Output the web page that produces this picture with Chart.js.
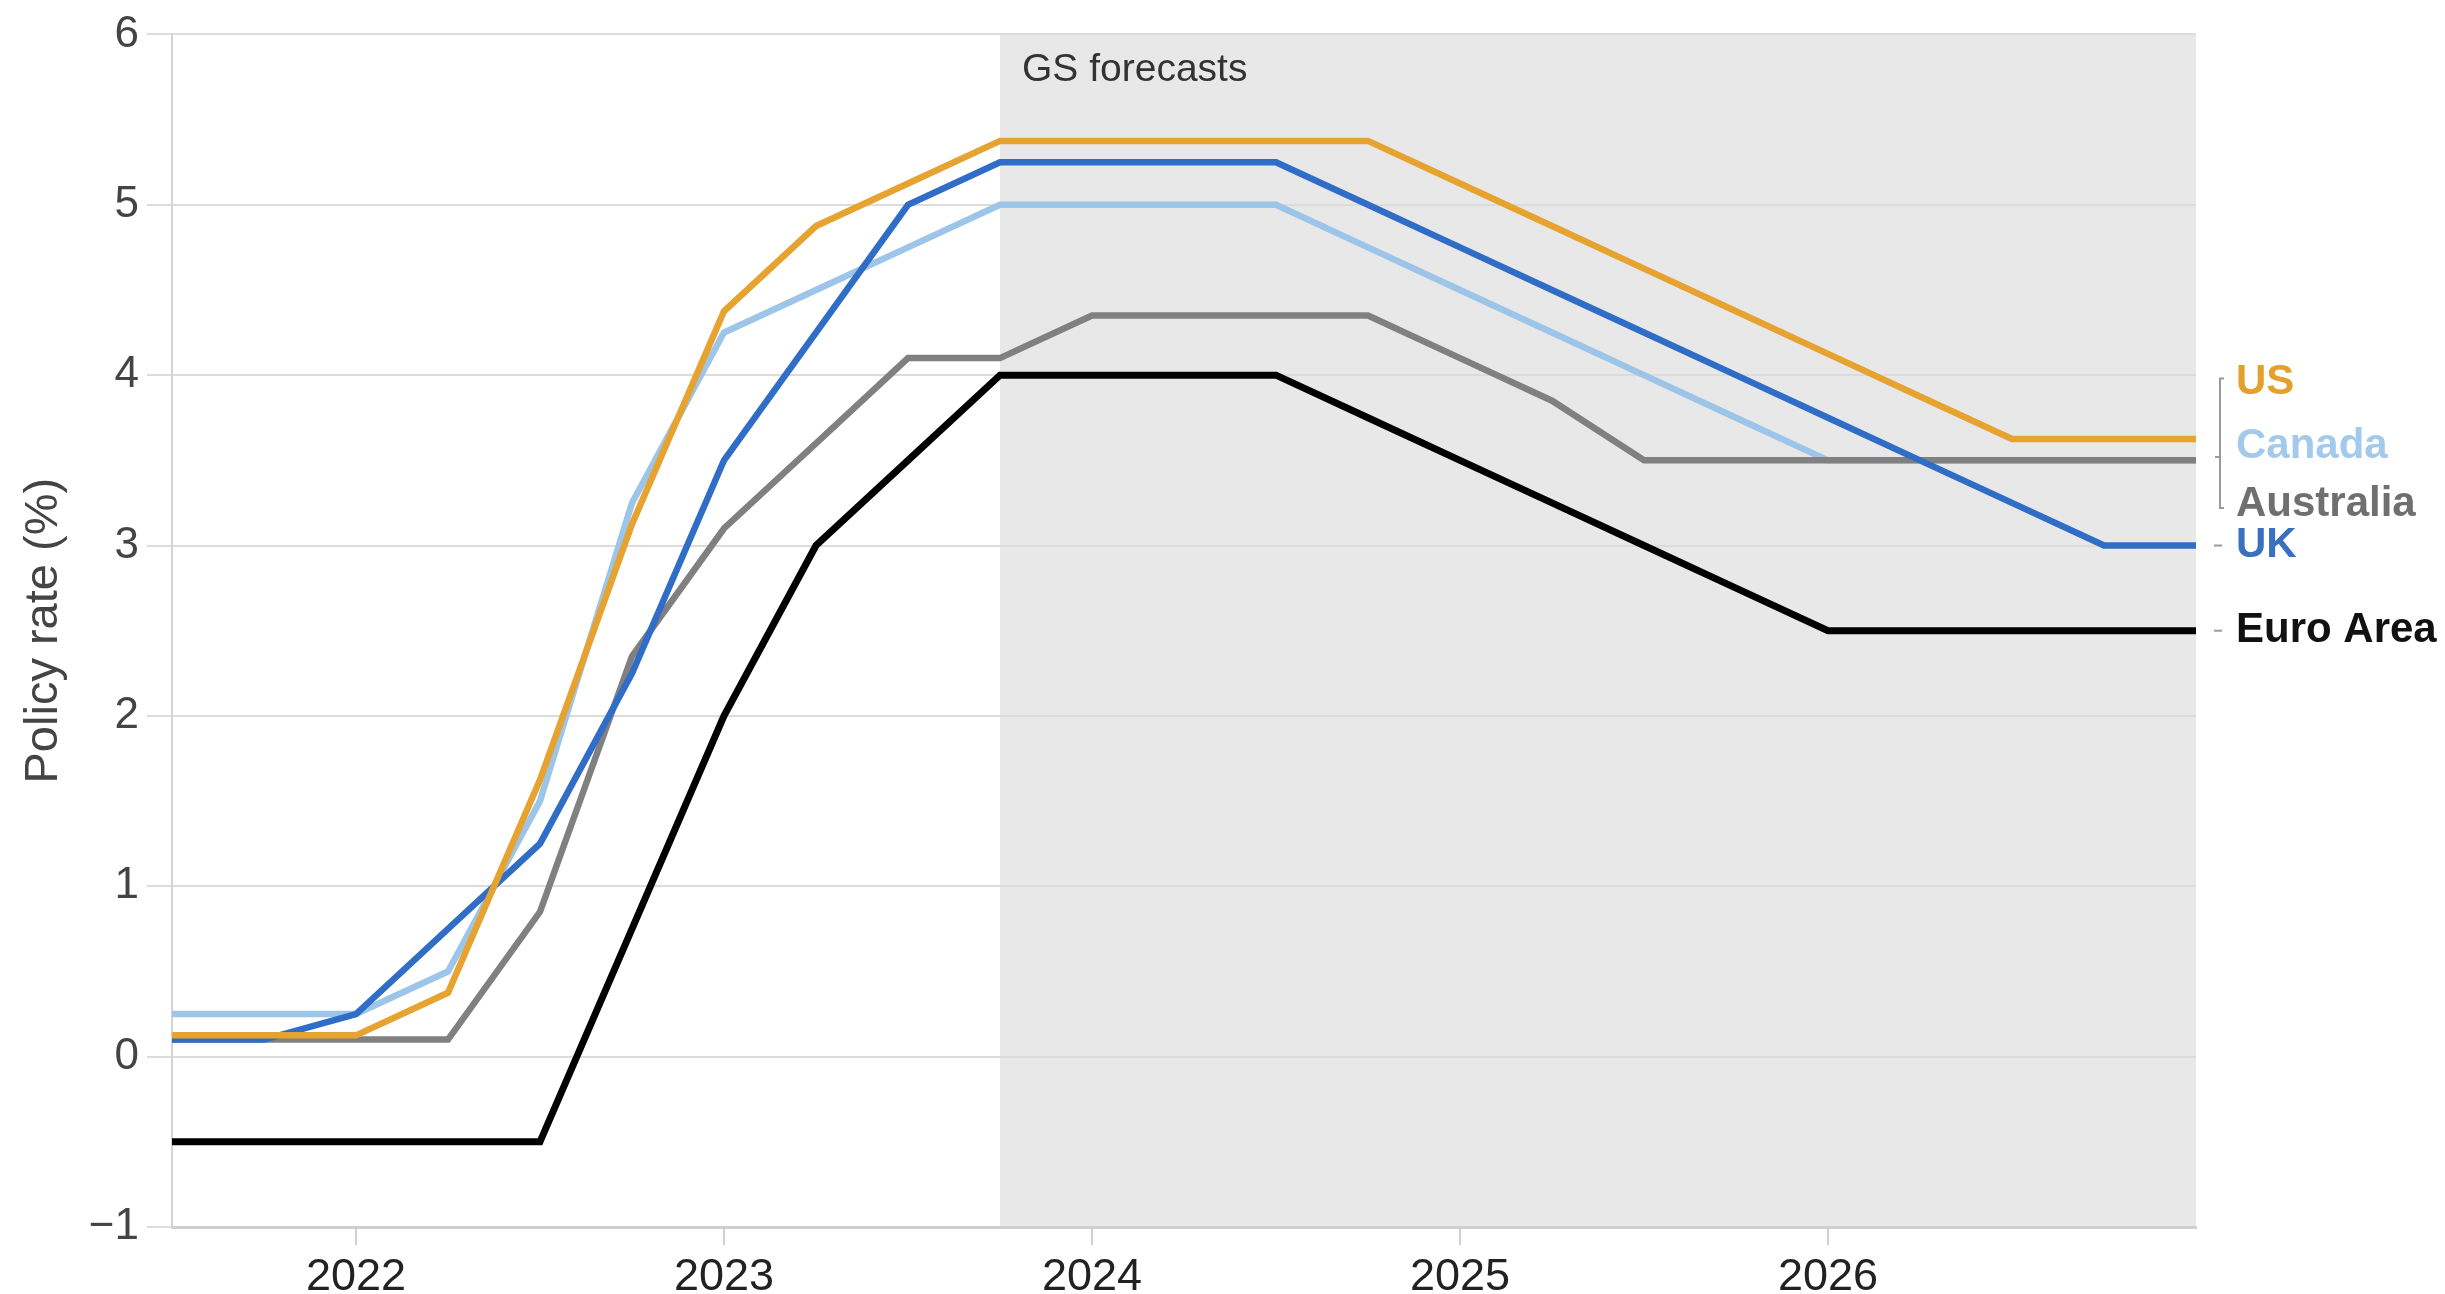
<!DOCTYPE html>
<html>
<head>
<meta charset="utf-8">
<script src="https://cdn.jsdelivr.net/npm/chart.js@4"></script>
<style>
  html, body { margin: 0; padding: 0; background: #fff; }
  #wrap { width: 2445px; height: 1294px; }
</style>
</head>
<body>
<div id="wrap"><canvas id="myChart" width="2445" height="1294"></canvas></div>
<script>
// quarter-end dates as fractional years
const quarters = [2021.5, 2021.75, 2022, 2022.25, 2022.5, 2022.75, 2023, 2023.25, 2023.5, 2023.75,
  2024, 2024.25, 2024.5, 2024.75, 2025, 2025.25, 2025.5, 2025.75, 2026, 2026.25, 2026.5, 2026.75, 2027];

const usRate = [0.125, 0.125, 0.125, 0.375, 1.625, 3.125, 4.375, 4.875, 5.125, 5.375,
  5.375, 5.375, 5.375, 5.375, 5.125, 4.875, 4.625, 4.375, 4.125, 3.875, 3.625, 3.625, 3.625];
const canadaRate = [0.25, 0.25, 0.25, 0.5, 1.5, 3.25, 4.25, 4.5, 4.75, 5.0,
  5.0, 5.0, 5.0, 4.75, 4.5, 4.25, 4.0, 3.75, 3.5, 3.5, 3.5, 3.5, 3.5];
const australiaRate = [0.1, 0.1, 0.1, 0.1, 0.85, 2.35, 3.1, 3.6, 4.1, 4.1,
  4.35, 4.35, 4.35, 4.35, 4.1, 3.85, 3.5, 3.5, 3.5, 3.5, 3.5, 3.5, 3.5];
const ukRate = [0.1, 0.1, 0.25, 0.75, 1.25, 2.25, 3.5, 4.25, 5.0, 5.25,
  5.25, 5.25, 5.25, 5.0, 4.75, 4.5, 4.25, 4.0, 3.75, 3.5, 3.25, 3.0, 3.0];
const euroRate = [-0.5, -0.5, -0.5, -0.5, -0.5, 0.75, 2.0, 3.0, 3.5, 4.0,
  4.0, 4.0, 4.0, 3.75, 3.5, 3.25, 3.0, 2.75, 2.5, 2.5, 2.5, 2.5, 2.5];

const seriesNames = ["US", "Canada", "Australia", "UK", "Euro Area"];
const xTicks = [2022, 2023, 2024, 2025, 2026];
const forecastStart = 2023.75;

const lineColors = ["#e6a330", "#9dc4e9", "#808080", "#2f6dc6", "#000000"];
const textColors = ["#e3a12c", "#a3c9ec", "#6f6f6f", "#3a6fc2", "#111111"];

const pts = (vals) => vals.map((v, i) => ({ x: quarters[i], y: v }));

const FONT = '"Liberation Sans", Arial, sans-serif';

// grey shading + "GS forecasts"
const shadePlugin = {
  id: "shade",
  beforeDraw(chart) {
    const { ctx, chartArea, scales } = chart;
    const x0 = scales.x.getPixelForValue(forecastStart);
    ctx.save();
    ctx.fillStyle = "#e8e8e8";
    ctx.fillRect(x0, chartArea.top, chartArea.right - x0, chartArea.bottom - chartArea.top);
    ctx.fillStyle = "#333";
    ctx.font = "39px " + FONT;
    ctx.textBaseline = "alphabetic";
    ctx.fillText("GS forecasts", x0 + 22, chartArea.top + 47);
    ctx.restore();
  }
};

// labels at the right end of the lines
const endLabels = {
  id: "endLabels",
  afterDraw(chart) {
    const { ctx, chartArea, scales } = chart;
    const y = scales.y;
    const labelAt = [3.96, 3.58, 3.24, 3.0, 2.5];
    const tx = chartArea.right + 40;
    ctx.save();
    ctx.textBaseline = "middle";
    seriesNames.forEach((name, i) => {
      ctx.font = "bold 42px " + FONT;
      ctx.fillStyle = textColors[i];
      ctx.fillText(name, tx, y.getPixelForValue(labelAt[i]));
    });
    // bracket for US / Canada / Australia
    ctx.strokeStyle = "#9a9a9a";
    ctx.lineWidth = 2;
    const bx = chartArea.right + 24;
    const top = y.getPixelForValue(3.98), bot = y.getPixelForValue(3.22), mid = y.getPixelForValue(3.52);
    ctx.beginPath();
    ctx.moveTo(bx + 4, top); ctx.lineTo(bx, top); ctx.lineTo(bx, bot); ctx.lineTo(bx + 4, bot);
    ctx.moveTo(bx, mid); ctx.lineTo(bx - 5, mid);
    ctx.stroke();
    // short dashes for UK and Euro Area
    [3.0, 2.5].forEach((v) => {
      const py = y.getPixelForValue(v);
      ctx.beginPath();
      ctx.moveTo(bx - 6, py); ctx.lineTo(bx + 2, py);
      ctx.stroke();
    });
    ctx.restore();
  }
};

const mkSet = (i, vals, width, order) => ({
  label: seriesNames[i],
  data: pts(vals),
  borderColor: lineColors[i],
  borderWidth: width,
  pointRadius: 0,
  tension: 0,
  fill: false,
  order: order
});

new Chart(document.getElementById("myChart").getContext("2d"), {
  type: "line",
  data: {
    datasets: [
      mkSet(0, usRate, 6.5, 1),
      mkSet(1, canadaRate, 6.5, 5),
      mkSet(2, australiaRate, 6.5, 4),
      mkSet(3, ukRate, 6.5, 2),
      mkSet(4, euroRate, 7, 3)
    ]
  },
  options: {
    responsive: false,
    animation: false,
    devicePixelRatio: 1,
    layout: { padding: { top: 31, right: 249, bottom: 0, left: 0 } },
    plugins: {
      legend: { display: false },
      tooltip: { enabled: false }
    },
    scales: {
      x: {
        type: "linear",
        min: 2021.5,
        max: 2027,
        afterBuildTicks: (scale) => {
          scale.ticks = xTicks.map((v) => ({ value: v }));
        },
        afterFit: (scale) => { scale.height = 67; },
        grid: { drawOnChartArea: false, drawTicks: true, tickLength: 18, color: "#d0d0d0", lineWidth: 2 },
        border: { color: "#cfcfcf", width: 3 },
        ticks: {
          padding: 10,
          color: "#222",
          font: { family: FONT, size: 45, lineHeight: 1.0 },
          callback: (v) => String(v)
        }
      },
      y: {
        min: -1,
        max: 6,
        afterFit: (scale) => { scale.width = 172; },
        grid: { color: "#dcdcdc", lineWidth: 2, tickLength: 25 },
        border: { display: true, color: "#d4d4d4", width: 2 },
        ticks: {
          stepSize: 1,
          padding: 8,
          color: "#444",
          font: { family: FONT, size: 44 },
          callback: (v) => String(v).replace("-", "\u2212")
        },
        title: {
          display: true,
          text: "Policy rate (%)",
          color: "#444",
          font: { family: FONT, size: 47 },
          padding: { top: 16, bottom: 0 }
        }
      }
    }
  },
  plugins: [shadePlugin, endLabels]
});
</script>
</body>
</html>
